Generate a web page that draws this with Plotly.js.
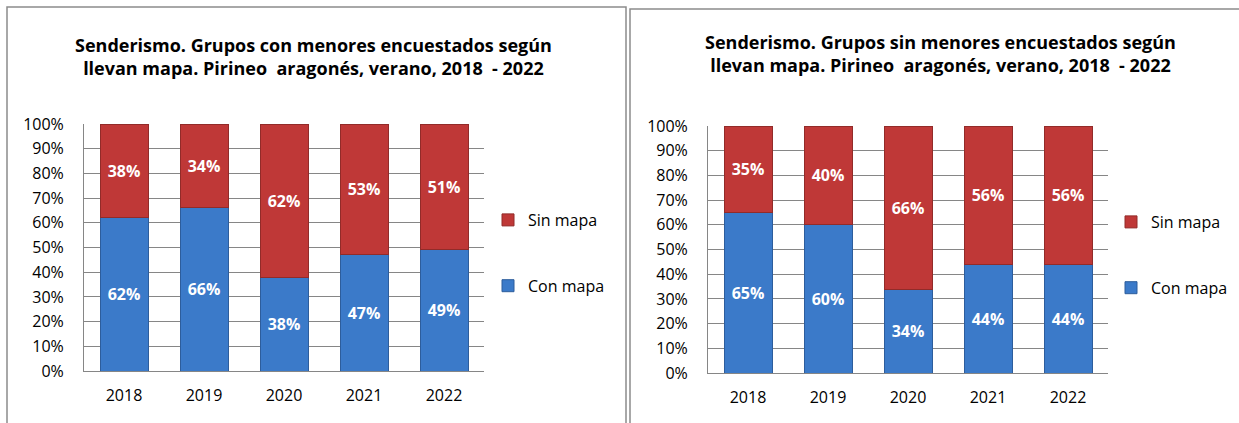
<!DOCTYPE html>
<html>
<head>
<meta charset="utf-8">
<script src="https://cdn.plot.ly/plotly-3.0.1.min.js"></script>
<style>
html,body{margin:0;padding:0;background:#fff;}
#chart{width:1239px;height:423px;}
</style>
</head>
<body>
<div id="chart"></div>
<script>
const years = ['2018', '2019', '2020', '2021', '2022'];
// Chart 1: groups with minors
const conMapa1 = [62, 66, 38, 47, 49];
const sinMapa1 = [38, 34, 62, 53, 51];
// Chart 2: groups without minors
const conMapa2 = [65, 60, 34, 44, 44];
const sinMapa2 = [35, 40, 66, 56, 56];
const seriesNames = ['Con mapa', 'Sin mapa'];
const yTickVals = [0, 10, 20, 30, 40, 50, 60, 70, 80, 90, 100];
const yTickText = yTickVals.map(v => v + '%');
const title1 = 'Senderismo. Grupos con menores encuestados según<br>llevan mapa. Pirineo  aragonés, verano, 2018  - 2022';
const title2 = 'Senderismo. Grupos sin menores encuestados según<br>llevan mapa. Pirineo  aragonés, verano, 2018  - 2022';

const BLUE = '#3b7ac9';
const BLUE_LINE = '#2d5d9c';
const RED = '#bf3837';
const RED_LINE = '#922b29';
const FONT = 'Open Sans, Lato, sans-serif';

function barTrace(vals, name, color, lineColor, xa, ya, legend, rank) {
  return {
    type: 'bar', x: years, y: vals, name: name,
    xaxis: xa, yaxis: ya, legend: legend, legendgroup: legend + name, legendrank: rank,
    marker: {color: color, line: {color: lineColor, width: 1}},
    text: vals.map(v => v + '%'), textposition: 'inside', insidetextanchor: 'middle',
    textfont: {color: '#ffffff', size: 16, family: FONT, weight: 'bold'},
    hoverinfo: 'x+y'
  };
}

const data = [
  barTrace(conMapa1, seriesNames[0], BLUE, BLUE_LINE, 'x', 'y', 'legend', 2),
  barTrace(sinMapa1, seriesNames[1], RED, RED_LINE, 'x', 'y', 'legend', 1),
  barTrace(conMapa2, seriesNames[0], BLUE, BLUE_LINE, 'x2', 'y2', 'legend2', 2),
  barTrace(sinMapa2, seriesNames[1], RED, RED_LINE, 'x2', 'y2', 'legend2', 1)
];

const W = 1239, H = 423;
const px = v => v / W;
const py = v => 1 - v / H;

function xAxis(domain, anchor) {
  return {
    domain: domain, anchor: anchor, type: 'category', tickangle: 0,
    showline: true, linecolor: '#868686', linewidth: 1,
    ticks: '', showgrid: false, ticklabelstandoff: 10,
    tickfont: {size: 16, family: FONT, color: '#000'},
    fixedrange: true
  };
}
function yAxis(domain, anchor) {
  return {
    domain: domain, anchor: anchor, range: [0, 100],
    tickvals: yTickVals, ticktext: yTickText,
    showline: true, linecolor: '#868686', linewidth: 1,
    showgrid: true, gridcolor: '#868686', gridwidth: 1,
    zeroline: false, ticks: '', ticklabelstandoff: 16,
    tickfont: {size: 16, family: FONT, color: '#000'},
    fixedrange: true
  };
}

const legendCommon = {
  traceorder: 'grouped', tracegroupgap: 42,
  font: {size: 16, family: FONT, color: '#000'},
  bgcolor: 'rgba(0,0,0,0)', xanchor: 'left', yanchor: 'top',
  itemwidth: 30
};

const layout = {
  width: W, height: H,
  margin: {l: 0, r: 0, t: 0, b: 0},
  paper_bgcolor: '#ffffff', plot_bgcolor: '#ffffff',
  barmode: 'stack', bargap: 0.4,
  showlegend: true,
  xaxis: xAxis([px(84), px(484)], 'y'),
  yaxis: yAxis([py(371), py(124)], 'x'),
  xaxis2: xAxis([px(708), px(1108)], 'y2'),
  yaxis2: yAxis([py(373), py(126)], 'x2'),
  legend: Object.assign({x: px(488), y: py(203)}, legendCommon),
  legend2: Object.assign({x: px(1111), y: py(205)}, legendCommon),
  annotations: [
    {text: title1, xref: 'paper', yref: 'paper', x: px(313), y: py(57), xanchor: 'center', yanchor: 'middle',
     showarrow: false, font: {size: 18, family: FONT, color: '#000', weight: 'bold'}, align: 'center'},
    {text: title2, xref: 'paper', yref: 'paper', x: px(940), y: py(54), xanchor: 'center', yanchor: 'middle',
     showarrow: false, font: {size: 18, family: FONT, color: '#000', weight: 'bold'}, align: 'center'}
  ],
  shapes: [
    {type: 'path', xref: 'paper', yref: 'paper',
     path: `M ${px(7)} 0 L ${px(7)} ${py(7)} L ${px(626)} ${py(7)} L ${px(626)} 0`,
     line: {color: '#8c8c8c', width: 1.5}},
    {type: 'path', xref: 'paper', yref: 'paper',
     path: `M ${px(630)} 0 L ${px(630)} ${py(9)} L ${px(1239)} ${py(9)}`,
     line: {color: '#8c8c8c', width: 1.5}}
  ]
};

Plotly.newPlot('chart', data, layout, {displayModeBar: false, staticPlot: true});
</script>
</body>
</html>
